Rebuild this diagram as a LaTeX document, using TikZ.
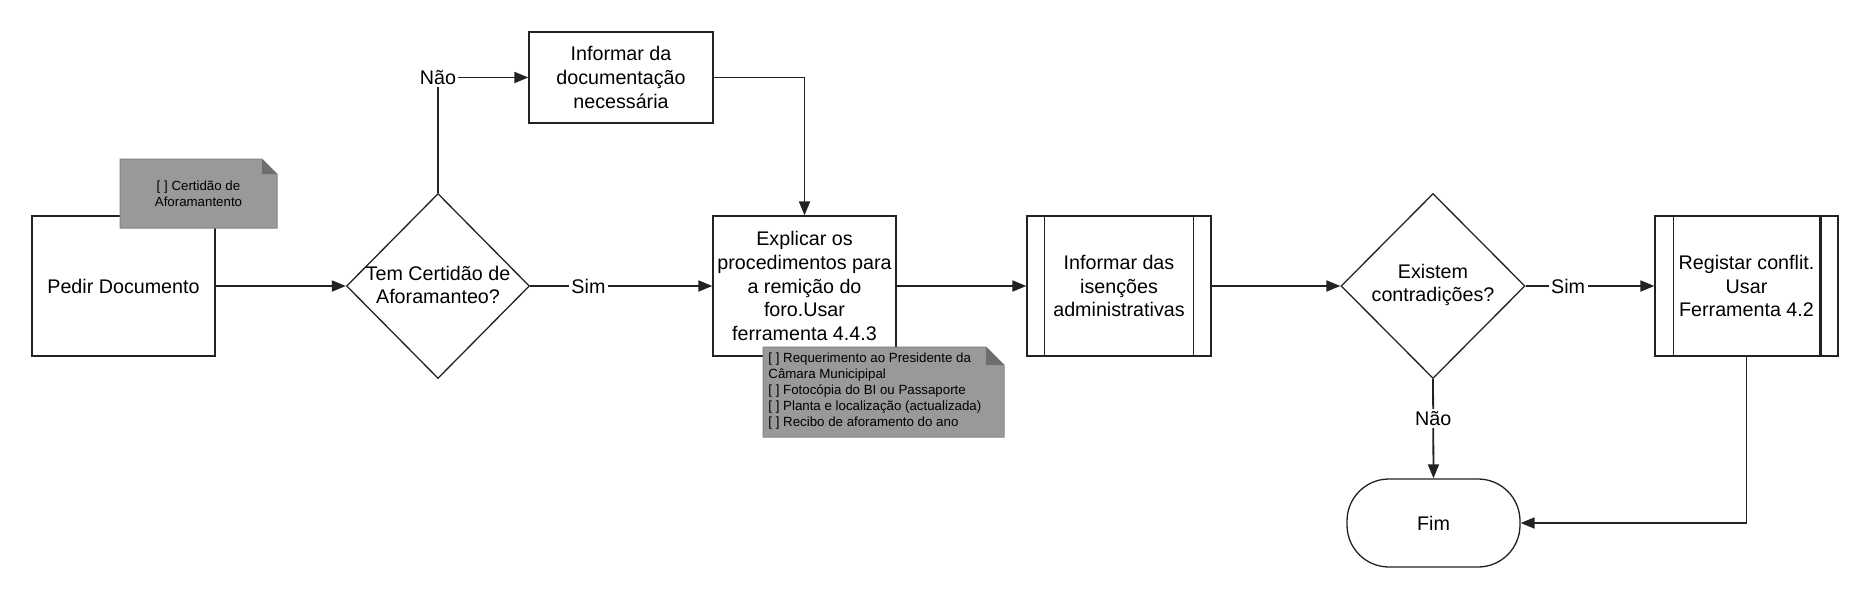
\documentclass[tikz,border=0pt]{standalone}
\usepackage{fontspec}
\setmainfont{Liberation Sans}
\usetikzlibrary{arrows.meta,shapes.geometric}
\definecolor{notegray}{HTML}{999999}
\definecolor{foldgray}{HTML}{6E6E6E}
\definecolor{noteedge}{HTML}{858585}
\definecolor{ink}{HTML}{222222}
\newcommand{\mainfs}{\fontsize{9.85}{11.85}\selectfont}
\newcommand{\notefs}{\fontsize{6.65}{8.05}\selectfont}
\newcommand{\notebox}[5]{%
  \fill[notegray] (#1,#2) -- ({#3-#5},#2) -- (#3,{#2+#5}) -- (#3,#4) -- (#1,#4) -- cycle;
  \draw[noteedge, line width=0.5pt] (#1,#2) -- ({#3-#5},#2) -- (#3,{#2+#5}) -- (#3,#4) -- (#1,#4) -- cycle;
  \fill[foldgray] ({#3-#5},#2) -- (#3,{#2+#5}) -- ({#3-#5},{#2+#5}) -- cycle;
}
\newcommand{\cb}{{[ ]}}
\begin{document}
\begin{tikzpicture}[x=0.5pt,y=-0.5pt,
  box/.style={draw=ink, line width=0.65pt, fill=white, rectangle, inner sep=0pt,
              align=center, font=\mainfs, text=black, minimum width=91.5pt, minimum height=70pt},
  dia/.style={draw=ink, line width=0.65pt, fill=white, diamond, inner sep=0pt,
              minimum width=91.5pt, minimum height=92.5pt},
  txt/.style={align=center, font=\mainfs, text=black, inner sep=0pt},
  lbl/.style={fill=white, font=\mainfs, inner sep=1.2pt, text=black},
  notetxt/.style={font=\notefs, text=black, inner sep=0pt},
  conn/.style={draw=ink, line width=0.9pt, -{Triangle[length=7pt,width=5.5pt]}},
  terminal/.style={draw=ink, line width=0.65pt, fill=white, rectangle, rounded corners=21pt,
              minimum width=86.5pt, minimum height=44pt, inner sep=0pt, font=\mainfs, text=black}
]
\useasboundingbox[fill=white] (0,0) rectangle (1874,611);

% nodes
\node[box] (pedir) at (123.5,286) {Pedir Documento};
\node[dia] (d1) at (438,286) {};
\node[txt] (d1t) at (438,285) {Tem Certidão de\\Aforamanteo?};
\node[box, minimum height=45.5pt, minimum width=92pt] (info) at (621,77.5) {Informar da\\documentação\\necessária};
\node[box] (expl) at (804.5,286) {Explicar os\\procedimentos para\\a remição do\\foro.Usar\\ferramenta 4.4.3};
\node[box, minimum width=92pt] (isen) at (1119,286) {Informar das\\isenções\\administrativas};
\draw[ink, line width=0.65pt] ([xshift=9pt]isen.north west) -- ([xshift=9pt]isen.south west);
\draw[ink, line width=0.65pt] ([xshift=-9pt]isen.north east) -- ([xshift=-9pt]isen.south east);
\node[dia, minimum width=92pt] (d2) at (1433,286) {};
\node[txt] (d2t) at (1433,285) {Existem\\contradições?};
\node[box] (reg) at (1746.5,286) {Registar conflit.\\Usar\\Ferramenta 4.2};
\draw[ink, line width=0.65pt] ([xshift=9.5pt]reg.north west) -- ([xshift=9.5pt]reg.south west);
\draw[ink, line width=1.3pt] ([xshift=-9pt]reg.north east) -- ([xshift=-9pt]reg.south east);
\node[terminal] (fim) at (1433.5,523) {Fim};

% connectors
\draw[conn] (pedir.east) -- (d1.west);
\draw[conn] (d1.north) |- node[pos=0.5, lbl] {Não} (info.west);
\draw[conn] (info.east) -| (expl.north);
\draw[conn] (d1.east) -- node[pos=0.32, lbl] {Sim} (expl.west);
\draw[conn] (expl.east) -- (isen.west);
\draw[conn] (isen.east) -- (d2.west);
\draw[conn] (d2.east) -- node[pos=0.33, lbl] {Sim} (reg.west);
\draw[conn] (d2.south) -- node[pos=0.4, lbl] {Não} (fim.north);
\draw[conn] (reg.south) |- (fim.east);

% notes
\notebox{120}{159}{277}{228}{15}
\node[notetxt, align=center] (n1) at (198.5,193.5) {\cb{} Certidão de\\Aforamantento};
\notebox{763}{347}{1004}{437}{18}
\node[notetxt, align=left, anchor=north west] (n2) at (768,352) {\cb{} Requerimento ao Presidente da\\Câmara Municipipal\\\cb{} Fotocópia do BI ou Passaporte\\\cb{} Planta e localização (actualizada)\\\cb{} Recibo de aforamento do ano};
\end{tikzpicture}
\end{document}
